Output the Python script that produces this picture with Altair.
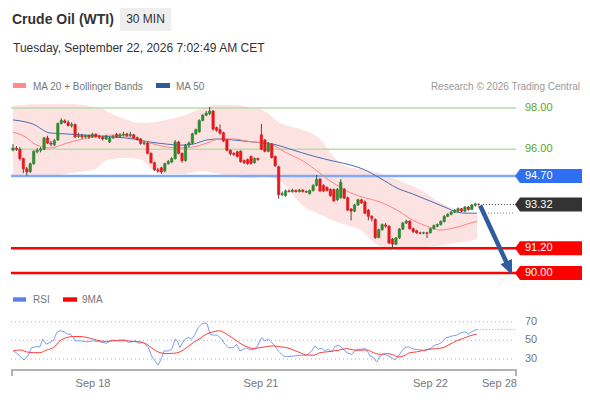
import altair as alt
import pandas as pd

FONT = "Arial, 'Liberation Sans', sans-serif"

# ---------------- candles (30 min) ----------------
opens = [
    95.96, 96.05, 96.00, 95.55, 95.05, 94.92, 95.30, 95.88, 95.95, 96.00,
    96.55, 96.30, 96.22, 96.45, 97.25, 97.38, 97.30, 97.15, 97.20, 96.62,
    96.66, 96.60, 96.66, 96.60, 96.72, 96.62, 96.58, 96.50, 96.35, 96.55,
    96.72, 96.62, 96.70, 96.74, 96.66, 96.70, 96.56, 96.50, 96.28, 96.30,
    95.80, 95.35, 95.00, 95.10, 94.95, 95.30, 95.38, 95.55, 96.35, 95.80,
    95.45, 96.20, 96.30, 96.75, 96.85, 97.40, 97.65, 97.72, 97.85, 97.05,
    96.95, 96.80, 96.45, 95.95, 95.80, 95.88, 95.90, 95.45, 95.50, 95.65,
    95.35, 95.55, 96.70, 96.45, 95.90, 96.25, 95.65, 95.15, 93.80, 93.75,
    93.98, 93.95, 94.00, 93.95, 94.02, 93.95, 93.85, 94.00, 94.25, 94.55,
    94.25, 94.15, 94.05, 94.05, 93.55, 93.65, 94.07, 93.65, 93.10, 93.00,
    93.30, 93.55, 93.45, 93.05, 92.75, 92.60, 91.72, 92.10, 92.33, 92.27,
    91.65, 91.40, 91.70, 92.13, 92.42, 92.52, 92.15, 92.05, 91.95, 91.93,
    91.95, 91.95, 92.15, 92.27, 92.35, 92.50, 92.75, 92.85, 92.95, 93.00,
    93.12, 93.00, 93.20, 93.08, 93.28, 93.33]
closes = [
    96.06, 96.00, 95.55, 95.05, 94.90, 95.30, 95.90, 95.95, 96.02, 96.55,
    96.30, 96.25, 96.42, 97.25, 97.40, 97.30, 97.15, 97.20, 96.60, 96.66,
    96.60, 96.66, 96.60, 96.72, 96.62, 96.58, 96.50, 96.62, 96.55, 96.60,
    96.60, 96.70, 96.74, 96.66, 96.72, 96.55, 96.48, 96.28, 96.32, 95.80,
    95.35, 95.00, 94.95, 94.90, 95.30, 95.40, 95.55, 96.35, 95.80, 95.45,
    96.20, 96.30, 96.75, 96.95, 97.40, 97.65, 97.75, 97.85, 96.98, 96.92,
    96.78, 96.40, 95.95, 95.78, 95.75, 95.65, 95.40, 95.35, 95.30, 95.32,
    95.55, 95.50, 96.00, 95.90, 96.30, 95.60, 95.20, 93.80, 93.85, 93.98,
    93.95, 94.02, 93.95, 94.02, 93.95, 93.92, 94.00, 94.25, 94.55, 93.98,
    93.98, 94.00, 93.75, 93.50, 94.05, 94.40, 93.63, 93.05, 93.00, 93.30,
    93.55, 93.40, 92.90, 92.75, 92.65, 91.72, 92.10, 92.35, 92.27, 91.45,
    91.40, 91.70, 92.13, 92.42, 92.52, 92.15, 92.00, 91.95, 91.93, 91.95,
    91.93, 92.15, 92.30, 92.35, 92.50, 92.75, 92.85, 92.95, 93.05, 93.12,
    93.00, 93.20, 93.08, 93.30, 93.35, 93.32]
highs = [
    96.25, 96.15, 96.10, 95.60, 95.15, 95.35, 95.95, 96.05, 96.10, 96.60,
    96.65, 96.40, 96.50, 97.30, 97.50, 97.45, 97.40, 97.30, 97.25, 96.80,
    96.75, 96.70, 96.72, 96.80, 96.78, 96.70, 96.65, 96.70, 96.62, 96.70,
    96.80, 96.78, 96.85, 96.80, 96.85, 96.75, 96.62, 96.55, 96.40, 96.35,
    95.85, 95.40, 95.10, 95.15, 95.35, 95.48, 95.62, 96.45, 96.40, 95.85,
    96.25, 96.38, 96.80, 97.00, 97.45, 97.70, 97.85, 98.05, 97.90, 97.10,
    97.20, 96.85, 96.50, 96.00, 95.85, 95.92, 95.95, 95.50, 95.55, 95.70,
    95.60, 95.60, 97.22, 96.50, 96.35, 96.30, 95.70, 95.20, 93.95, 94.05,
    94.05, 94.08, 94.05, 94.08, 94.06, 94.00, 94.05, 94.30, 94.75, 94.60,
    94.30, 94.20, 94.10, 94.10, 94.12, 94.55, 94.12, 93.70, 93.15, 93.35,
    93.60, 93.60, 93.52, 93.10, 92.80, 92.65, 92.15, 92.40, 92.42, 92.32,
    91.70, 91.75, 92.18, 92.48, 92.58, 92.55, 92.20, 92.10, 92.00, 92.00,
    92.00, 92.20, 92.35, 92.40, 92.55, 92.80, 92.90, 93.00, 93.10, 93.18,
    93.15, 93.25, 93.25, 93.35, 93.40, 93.38]
lows = [
    95.90, 95.92, 95.45, 94.85, 94.72, 94.85, 95.25, 95.80, 95.85, 95.95,
    96.25, 96.15, 96.15, 96.40, 97.20, 97.25, 97.10, 97.05, 96.55, 96.55,
    96.50, 96.55, 96.50, 96.55, 96.55, 96.50, 96.42, 96.45, 96.30, 96.50,
    96.55, 96.55, 96.62, 96.60, 96.60, 96.50, 96.42, 96.22, 96.20, 95.75,
    95.30, 94.95, 94.85, 94.80, 94.88, 95.25, 95.32, 95.50, 95.75, 95.35,
    95.40, 96.10, 96.25, 96.70, 96.80, 97.35, 97.60, 97.65, 96.90, 96.85,
    96.70, 96.35, 95.90, 95.70, 95.68, 95.60, 95.35, 95.28, 95.25, 95.25,
    95.30, 95.45, 95.95, 95.85, 95.85, 95.55, 95.15, 93.60, 93.72, 93.70,
    93.90, 93.90, 93.90, 93.90, 93.90, 93.88, 93.80, 93.95, 94.20, 93.92,
    93.92, 93.95, 93.70, 93.45, 93.50, 93.60, 93.58, 93.00, 92.55, 92.95,
    93.25, 93.35, 92.85, 92.55, 92.50, 91.65, 91.68, 92.05, 92.20, 91.40,
    91.16, 91.35, 91.65, 92.08, 92.38, 92.10, 91.95, 91.90, 91.88, 91.88,
    91.70, 91.92, 92.10, 92.22, 92.30, 92.45, 92.70, 92.80, 92.90, 92.95,
    92.95, 92.95, 93.02, 93.05, 93.22, 93.28]
assert len(opens) == len(closes) == len(highs) == len(lows) == 136

# ---------------- indicators ----------------
band_x = [0, 7.8, 16.5, 23.8, 26.7, 28.1, 32.5, 36.8, 40.3, 44.1, 49.9, 54.2, 58.6, 64.3,
          68.7, 73.0, 77.4, 80.3, 84.1, 89.0, 92.8, 96.2, 100.6, 106.4, 112.2, 118.0,
          124.6, 129.6, 134.5]
band_up = [98.10, 98.19, 98.19, 98.05, 97.90, 97.76, 97.47, 97.27, 97.30, 97.42, 97.66,
           97.95, 98.15, 98.15, 98.05, 97.85, 97.27, 97.12, 96.93, 96.50, 95.67, 95.18,
           95.04, 94.84, 94.46, 94.05, 93.34, 93.00, 92.85]
band_lo = [94.65, 94.65, 94.84, 95.04, 95.43, 95.50, 95.57, 95.52, 95.04, 94.80, 94.80,
           94.94, 94.84, 94.65, 94.60, 94.65, 94.46, 93.97, 93.24, 92.85, 92.55, 92.35,
           92.10, 91.30, 91.20, 91.25, 91.35, 91.50, 91.64]

ma20_x = [0, 4.1, 5.8, 8.7, 10.7, 15.7, 20.3, 25.2, 30.1, 34.8, 39.7, 44.6, 48.4, 52.2,
          56.2, 60.0, 63.8, 69.6, 73.6, 75.9, 78.3, 81.2, 84.1, 87.0, 89.0, 91.9, 93.9,
          96.8, 101.4, 106.4, 111.3, 115.9, 120.9, 123.8, 127.5, 131.6, 134.5]
ma20_v = [96.83, 96.54, 96.30, 96.11, 96.06, 96.30, 96.50, 96.64, 96.69, 96.54, 96.30,
          96.11, 96.06, 96.11, 96.30, 96.50, 96.50, 96.35, 96.30, 96.16, 95.91, 95.67,
          95.43, 95.09, 94.84, 94.46, 94.26, 93.97, 93.68, 93.44, 93.05, 92.56, 92.22,
          92.08, 92.17, 92.37, 92.51]

ma50_x = [0, 5.8, 10.7, 15.7, 25.2, 34.8, 39.7, 44.6, 48.4, 52.2, 56.2, 60.0, 63.8, 69.6,
          75.4, 81.2, 87.0, 92.8, 96.8, 101.4, 106.4, 111.3, 115.9, 120.9, 125.8, 128.7,
          131.6, 134.5]
ma50_v = [97.42, 97.22, 96.79, 96.74, 96.64, 96.50, 96.35, 96.25, 96.20, 96.25, 96.45,
          96.50, 96.45, 96.35, 96.25, 95.96, 95.67, 95.43, 95.28, 95.04, 94.60, 94.12,
          93.83, 93.49, 93.15, 92.95, 92.90, 92.90]

rsi_x = [0.1, 0.9, 2.0, 3.2, 4.4, 5.4, 6.9, 7.8, 8.6, 9.6, 10.7, 11.7, 12.7, 13.6, 14.8,
         15.7, 16.7, 17.5, 18.0, 19.4, 21.4, 23.3, 25.2, 27.1, 28.1, 29.1, 30.0, 31.0,
         32.5, 33.4, 34.4, 35.4, 36.3, 37.8, 39.2, 40.2, 41.2, 42.1, 43.1, 43.8, 45.0,
         46.0, 47.0, 47.6, 48.4, 49.2, 49.9, 50.8, 51.8, 52.8, 53.7, 54.7, 55.7, 56.3,
         57.1, 58.1, 59.2, 60.5, 61.4, 62.4, 63.9, 64.8, 65.8, 66.8, 67.7, 68.7, 69.7,
         70.6, 72.1, 73.0, 74.0, 75.0, 75.9, 76.9, 78.4, 79.3, 81.3, 83.2, 85.1, 86.6,
         87.5, 88.5, 89.5, 90.4, 91.4, 92.4, 93.3, 94.3, 95.3, 96.7, 98.2, 99.1, 100.1,
         101.1, 102.0, 102.7, 103.5, 104.5, 105.4, 106.4, 107.4, 108.3, 109.8, 110.7,
         111.7, 112.7, 113.6, 114.6, 115.6, 116.5, 118.0, 119.4, 120.4, 121.4, 122.3,
         123.3, 124.3, 125.2, 126.7, 127.6, 128.6, 129.6, 130.3, 131.0, 132.0, 133.0,
         133.9, 134.6]
rsi_v = [38.6, 36.8, 33.2, 28.9, 34.0, 42.2, 43.3, 43.0, 51.3, 45.9, 47.7, 49.5, 58.5,
         60.3, 59.2, 56.7, 56.7, 53.1, 49.5, 49.5, 48.4, 49.5, 48.4, 46.9, 49.5, 50.5,
         49.5, 50.5, 50.5, 47.7, 48.4, 49.5, 46.9, 47.7, 42.2, 33.2, 27.8, 23.5, 31.4,
         38.6, 38.6, 40.5, 51.3, 49.5, 42.2, 47.7, 51.3, 53.1, 51.3, 56.7, 63.9, 67.5,
         68.6, 67.5, 56.7, 55.6, 55.6, 51.3, 45.9, 42.2, 42.2, 45.9, 38.6, 40.5, 42.2,
         39.7, 40.5, 42.2, 53.1, 49.5, 51.3, 47.7, 44.1, 38.6, 33.2, 32.5, 33.2, 34.0,
         34.0, 38.6, 44.1, 40.5, 41.5, 38.6, 40.5, 37.6, 43.3, 44.8, 42.2, 36.8, 35.0,
         38.6, 40.5, 40.5, 41.5, 38.6, 33.2, 31.4, 26.8, 33.2, 35.0, 34.0, 31.4, 28.9,
         33.2, 38.6, 42.2, 43.3, 41.2, 40.5, 39.7, 38.6, 40.5, 42.2, 44.8, 45.9, 47.7,
         52.0, 54.1, 54.9, 55.6, 57.7, 58.5, 59.2, 56.7, 59.2, 61.0, 61.7]

ma9_x = [0.1, 2.0, 4.0, 5.9, 7.8, 9.8, 11.7, 13.6, 15.6, 17.5, 19.4, 21.4, 23.3, 25.2,
         27.1, 29.1, 31.0, 32.9, 34.9, 36.8, 38.7, 40.7, 42.6, 44.5, 46.5, 48.4, 50.3,
         52.3, 54.2, 56.1, 58.1, 59.5, 60.5, 61.9, 63.9, 65.8, 67.7, 69.7, 71.6, 73.5,
         75.5, 77.4, 79.3, 81.3, 83.2, 85.1, 87.1, 89.0, 90.9, 92.9, 94.8, 96.7, 98.7,
         100.6, 102.5, 104.5, 106.4, 108.3, 110.3, 111.7, 113.2, 115.1, 117.0, 119.0,
         120.9, 122.8, 124.7, 126.7, 128.6, 130.5, 132.5, 134.4]
ma9_v = [38.6, 39.7, 37.6, 36.8, 36.8, 39.7, 42.2, 49.5, 53.1, 54.1, 54.1, 53.1, 51.3,
         49.5, 48.8, 49.5, 49.5, 49.5, 48.8, 48.4, 45.9, 40.5, 36.8, 35.8, 36.1, 37.6,
         42.2, 47.7, 52.0, 56.7, 59.2, 60.3, 59.6, 56.7, 52.0, 46.9, 43.3, 41.2, 42.2,
         43.3, 44.1, 43.0, 42.2, 39.7, 36.8, 34.3, 34.0, 36.8, 37.6, 38.6, 39.7, 41.2,
         39.7, 39.4, 39.7, 36.8, 35.0, 35.8, 34.3, 32.2, 33.2, 36.8, 37.6, 39.4, 40.5,
         41.2, 42.2, 45.9, 49.5, 52.0, 54.9, 56.7]

# key levels
res_levels = [98.00, 96.00]
pivot_level = 94.70
last_price = 93.32
sup_levels = [91.20, 90.00]
rsi_levels = [70, 50, 30]

# forecast arrow (from last price toward the 90.00 target)
arrow_i = [135.4, 143.6]
arrow_p = [93.27, 90.31]

# x-axis labels
date_labels = ["Sep 18", "Sep 21", "Sep 22", "Sep 28"]
date_pos = [23.2, 71.9, 121.0, 141.0]
X_END = 145.8

# ---------------- styles ----------------
W, H = 504, 270
GREEN, RED = "#2e8b2e", "#e31a1c"
xs = alt.Scale(domain=[-0.29, X_END], nice=False, zero=False, padding=0)
ps = alt.Scale(domain=[90, 98], range=[173, 8], nice=False, zero=False, padding=0)
rs = alt.Scale(domain=[30, 70], range=[259, 221.7], nice=False, zero=False, padding=0)


def X(f):
    return alt.X(f, type="quantitative", scale=xs, axis=None)


def YP(f):
    return alt.Y(f, type="quantitative", scale=ps, axis=None)


def YR(f):
    return alt.Y(f, type="quantitative", scale=rs, axis=None)


one = pd.DataFrame({"k": [0]})


def txt(s, x, y, size, color, weight="normal", align="left"):
    return alt.Chart(pd.DataFrame({"t": [s]})).mark_text(
        align=align, baseline="alphabetic", fontSize=size, color=color,
        fontWeight=weight, font=FONT
    ).encode(text="t:N", x=alt.value(x), y=alt.value(y))


def box(x1, x2, y1, y2, color):
    return alt.Chart(one).mark_rect(color=color).encode(
        x=alt.value(x1), x2=alt.value(x2), y=alt.value(y1), y2=alt.value(y2))


cdf = pd.DataFrame({"i": list(range(len(opens))), "o": opens, "c": closes,
                    "h": highs, "l": lows})
cdf["dir"] = ["up" if c >= o else "down" for o, c in zip(opens, closes)]
dir_scale = alt.Scale(domain=["up", "down"], range=[GREEN, RED])

band = alt.Chart(pd.DataFrame({"i": band_x, "u": band_up, "d": band_lo})).mark_area(
    color="#fde2e2", opacity=1, interpolate="monotone").encode(x=X("i"), y=YP("u"), y2="d:Q")

res_df = pd.DataFrame({"p": res_levels, "t": [f"{v:.2f}" for v in res_levels]})
res_rules = alt.Chart(res_df).mark_rule(color="#b9dba4", strokeWidth=1.4).encode(
    x=alt.value(-1), x2=alt.value(504), y=YP("p"))
res_text = alt.Chart(res_df).mark_text(align="left", baseline="middle", fontSize=11,
                                       color="#5aa526", font=FONT).encode(
    x=alt.value(513), y=YP("p"), text="t:N")

piv_df = pd.DataFrame({"p": [pivot_level], "t": [f"{pivot_level:.2f}"]})
piv_rule = alt.Chart(piv_df).mark_rule(color="#82aaf4", strokeWidth=2.4).encode(
    x=alt.value(-1), x2=alt.value(504), y=YP("p"))

sup_df = pd.DataFrame({"p": sup_levels, "t": [f"{v:.2f}" for v in sup_levels]})
sup_rules = alt.Chart(sup_df).mark_rule(color="#ff0000", strokeWidth=2.4).encode(
    x=alt.value(-1), x2=alt.value(504), y=YP("p"))

ma50_line = alt.Chart(pd.DataFrame({"i": ma50_x, "v": ma50_v})).mark_line(
    color="#4a6db3", strokeWidth=1, interpolate="monotone").encode(x=X("i"), y=YP("v"))
ma20_line = alt.Chart(pd.DataFrame({"i": ma20_x, "v": ma20_v})).mark_line(
    color="#ff8585", strokeWidth=1, interpolate="monotone").encode(x=X("i"), y=YP("v"))

wicks = alt.Chart(cdf).mark_rule(color="#4a4a4a", strokeWidth=1).encode(
    x=X("i"), y=YP("l"), y2="h:Q")
bodies = alt.Chart(cdf).mark_bar(size=2.4, strokeWidth=0.6).encode(
    x=X("i"), y=YP("o"), y2="c:Q",
    fill=alt.Fill("dir:N", scale=dir_scale, legend=None),
    stroke=alt.Stroke("dir:N", scale=dir_scale, legend=None))

last_ext = alt.Chart(pd.DataFrame({"i": [136.2, X_END - 0.3], "p": [last_price] * 2})).mark_line(
    color="#333333", strokeWidth=1, strokeDash=[1, 2]).encode(x=X("i"), y=YP("p"))
ma50_ext = alt.Chart(pd.DataFrame({"i": [136.8, X_END - 0.3], "p": [ma50_v[-1]] * 2})).mark_line(
    color="#5b7fd0", strokeWidth=1, strokeDash=[1, 2]).encode(x=X("i"), y=YP("p"))

# label tags with a pointed left side (tip at 503, right edge at 570)
TAG = "M -1 0 L -0.851 -0.209 L 1 -0.209 L 1 0.209 L -0.851 0.209 Z"
tags_df = pd.DataFrame({
    "p": [pivot_level, last_price] + sup_levels,
    "t": [f"{v:.2f}" for v in [pivot_level, last_price] + sup_levels],
    "k": ["piv", "last", "sup", "sup"],
})
tag_scale = alt.Scale(domain=["piv", "last", "sup"], range=["#2f6ff2", "#333333", "#ff0000"])
tags = alt.Chart(tags_df).mark_point(shape=TAG, size=67 ** 2, filled=True, opacity=1,
                                     strokeWidth=0).encode(
    x=alt.value(536.5), y=YP("p"), color=alt.Color("k:N", scale=tag_scale, legend=None))
tag_text = alt.Chart(tags_df).mark_text(align="left", baseline="middle", fontSize=11,
                                        color="white", font=FONT).encode(
    x=alt.value(513), y=YP("p"), text="t:N")

arrow_df = pd.DataFrame({"i": arrow_i, "p": arrow_p})
arrow_shaft = alt.Chart(arrow_df).mark_line(color="#2f5c9e", strokeWidth=4.5,
                                            strokeCap="butt").encode(x=X("i"), y=YP("p"))
HEAD = "M 0 -1 L 0.7 0.6 L -0.7 0.6 Z"
arrow_head = alt.Chart(arrow_df.tail(1)).mark_point(shape=HEAD, size=324, filled=True, opacity=1,
                                                    color="#2f5c9e", angle=155.8,
                                                    strokeWidth=0).encode(x=X("i"), y=YP("p"))

# ---------------- RSI panel ----------------
rl_df = pd.DataFrame({"v": rsi_levels, "t": [str(v) for v in rsi_levels]})
rsi_grid = alt.Chart(rl_df).mark_rule(color="#b5b5b5", strokeWidth=1, strokeDash=[1, 3]).encode(
    x=alt.value(-1), x2=alt.value(503), y=YR("v"))
rsi_grid_text = alt.Chart(rl_df).mark_text(align="left", baseline="middle", fontSize=11,
                                           color="#777777", font=FONT).encode(
    x=alt.value(513), y=YR("v"), text="t:N")
rsi_line = alt.Chart(pd.DataFrame({"i": rsi_x, "v": rsi_v})).mark_line(
    color="#7d9cf0", strokeWidth=1).encode(x=X("i"), y=YR("v"))
rsi_ext = alt.Chart(pd.DataFrame({"i": [rsi_x[-1], X_END - 0.3], "v": [rsi_v[-1]] * 2})).mark_line(
    color="#7d9cf0", strokeWidth=1, strokeDash=[1, 2]).encode(x=X("i"), y=YR("v"))
ma9_line = alt.Chart(pd.DataFrame({"i": ma9_x, "v": ma9_v})).mark_line(
    color="#ff3b3b", strokeWidth=1, interpolate="monotone").encode(x=X("i"), y=YR("v"))

# x axis
axis_line = alt.Chart(one).mark_rule(color="#b3b3b3", strokeWidth=2).encode(
    x=alt.value(-1), x2=alt.value(504), y=alt.value(270))
tick_df = pd.DataFrame({"i": [-0.29, X_END]})
end_ticks = alt.Chart(tick_df).mark_rule(color="#b3b3b3", strokeWidth=2).encode(
    x=X("i"), y=alt.value(269), y2=alt.value(276))
date_text = alt.Chart(pd.DataFrame({"i": date_pos, "t": date_labels})).mark_text(
    align="center", baseline="alphabetic", fontSize=11, color="#777777", font=FONT).encode(
    x=X("i"), y=alt.value(287), text="t:N")

# ---------------- header / legends ----------------
header = [
    txt("Crude Oil (WTI)", 0, -76, 14, "#333333", weight="bold"),
    box(108, 159, -92, -69, "#eeeeee"),
    txt("30 MIN", 133.5, -77, 12, "#333333", align="center"),
    txt("Tuesday, September 22, 2026 7:02:49 AM CET", 1, -48, 12, "#333333"),
    box(1, 14, -17, -12, "#ff8c8c"),
    txt("MA 20 + Bollinger Bands", 21, -10.5, 10, "#777777"),
    box(144, 158, -17, -12, "#2e5a9c"),
    txt("MA 50", 164, -10.5, 10, "#777777"),
    txt("Research \u00a9 2026 Trading Central", 568, -10.5, 10, "#999999", align="right"),
    box(1, 14, 197.3, 201.7, "#5d7fe8"),
    txt("RSI", 21, 203, 10, "#777777"),
    box(51, 65, 197.3, 201.7, "#ff0000"),
    txt("9MA", 70, 203, 10, "#777777"),
]

layers = [band, res_rules, piv_rule, sup_rules, ma50_line, ma20_line, wicks, bodies,
          last_ext, ma50_ext, res_text, tags, tag_text, arrow_shaft, arrow_head,
          rsi_grid, rsi_grid_text, rsi_line, rsi_ext, ma9_line,
          axis_line, end_ticks, date_text] + header

chart = alt.layer(*layers).resolve_scale(
    y="independent", fill="independent", stroke="independent", color="independent"
).properties(
    width=W, height=H,
    autosize=alt.AutoSizeParams(type="none"),
    padding={"left": 4, "top": 92, "right": 66, "bottom": 20},
    background="white",
).configure_view(stroke=None)

chart.save("out.html", embed_options={"renderer": "svg", "actions": False})
